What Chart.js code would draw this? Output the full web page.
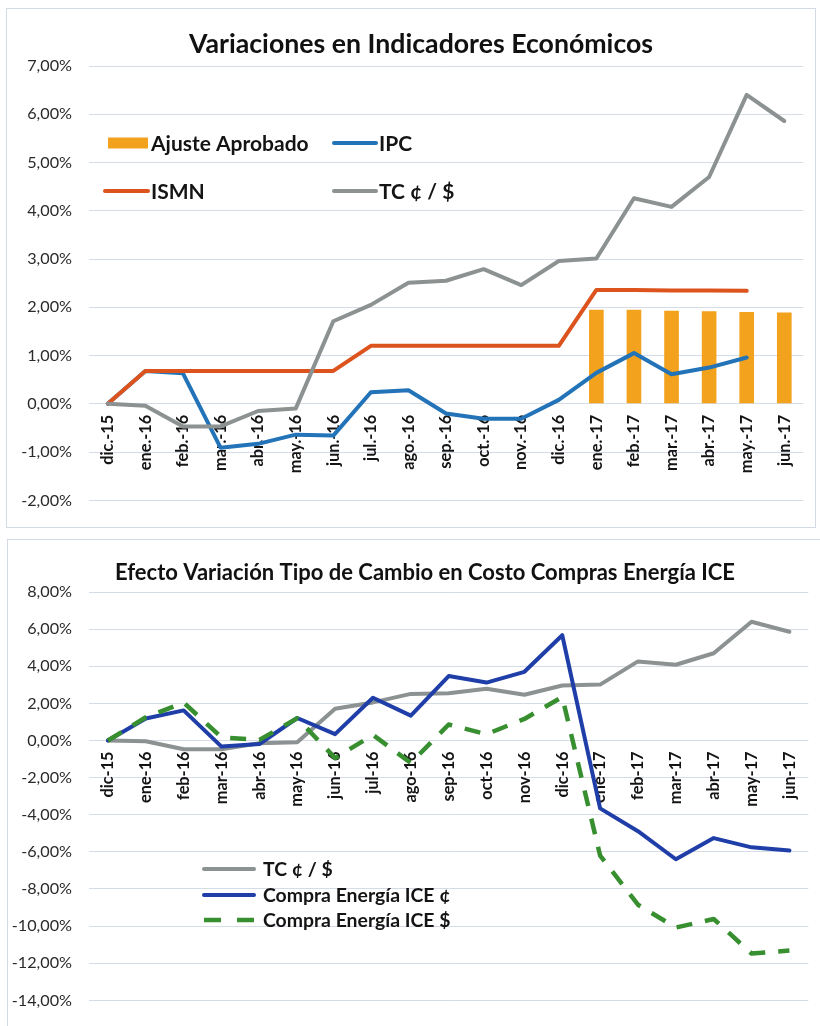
<!DOCTYPE html>
<html>
<head>
<meta charset="utf-8">
<script src="https://cdn.jsdelivr.net/npm/chart.js@4.4.1/dist/chart.umd.min.js"></script>
<style>
  html, body { margin: 0; padding: 0; background: #fff; }
  body { width: 820px; height: 1026px; position: relative; overflow: hidden; }
  .box { position: absolute; border: 1px solid #d3dae3; background: #fff; }
  #box1 { left: 6px; top: 8px; width: 808px; height: 518px; }
  #box2 { left: 7px; top: 539px; width: 820px; height: 500px; }
  canvas { display: block; }
</style>
</head>
<body>
<div class="box" id="box1"><canvas id="chart1" width="808" height="518"></canvas></div>
<div class="box" id="box2"><canvas id="chart2" width="812" height="487"></canvas></div>
<script>
// datos (variaciones en %)
const meses = ['dic.-15','ene.-16','feb.-16','mar.-16','abr.-16','may.-16','jun.-16','jul.-16','ago.-16','sep.-16','oct.-16','nov.-16','dic.-16','ene.-17','feb.-17','mar.-17','abr.-17','may.-17','jun.-17'];
const mesesB = ['dic-15','ene-16','feb-16','mar-16','abr-16','may-16','jun-16','jul-16','ago-16','sep-16','oct-16','nov-16','dic-16','ene-17','feb-17','mar-17','abr-17','may-17','jun-17'];

const ajuste = [null, null, null, null, null, null, null, null, null, null, null, null, null, 1.95, 1.95, 1.93, 1.92, 1.90, 1.89];
const ipc    = [0.00, 0.68, 0.63, -0.91, -0.83, -0.64, -0.66, 0.24, 0.28, -0.20, -0.31, -0.31, 0.08, 0.64, 1.05, 0.61, 0.75, 0.96, null];
const ismn   = [0.00, 0.68, 0.68, 0.68, 0.68, 0.68, 0.68, 1.20, 1.20, 1.20, 1.20, 1.20, 1.20, 2.36, 2.36, 2.35, 2.35, 2.34, null];
const tc     = [0.00, -0.04, -0.47, -0.47, -0.15, -0.10, 1.71, 2.05, 2.51, 2.55, 2.79, 2.46, 2.96, 3.01, 4.26, 4.08, 4.70, 6.40, 5.86];

const compraCol = [0.00, 1.18, 1.62, -0.33, -0.19, 1.21, 0.34, 2.30, 1.34, 3.47, 3.12, 3.70, 5.67, -3.66, -4.89, -6.40, -5.26, -5.76, -5.93];
const compraUsd = [0.00, 1.25, 2.04, 0.17, 0.03, 1.20, -0.95, 0.30, -1.21, 0.86, 0.34, 1.16, 2.34, -6.20, -8.85, -10.08, -9.62, -11.48, -11.32];

const FONT = "Lato, 'Liberation Sans', Arial, sans-serif";
const pct = v => v.toFixed(2).replace('.', ',') + '%';

// titulo centrado sobre el recuadro (no sobre el canvas), como en Excel
const boxTitle = {
  id: 'boxTitle',
  afterDraw(chart, args, opts) {
    const ctx = chart.ctx;
    ctx.save();
    ctx.font = opts.font;
    ctx.fillStyle = '#111';
    ctx.textAlign = 'center';
    ctx.textBaseline = 'middle';
    ctx.fillText(opts.text, opts.x, opts.y);
    ctx.restore();
  }
};

// leyenda dentro del area del grafico
const insideLegend = {
  id: 'insideLegend',
  afterDatasetsDraw(chart, args, opts) {
    const ctx = chart.ctx;
    ctx.save();
    ctx.font = opts.font;
    ctx.textBaseline = 'middle';
    ctx.textAlign = 'left';
    opts.items.forEach(it => {
      const ds = chart.data.datasets[it.ds];
      if (ds.type === 'bar') {
        ctx.fillStyle = ds.backgroundColor;
        ctx.fillRect(it.x, it.y - 5.5, it.w, 11);
      } else {
        ctx.strokeStyle = ds.borderColor;
        ctx.lineWidth = ds.borderWidth;
        ctx.lineCap = ds.borderDash ? 'butt' : 'round';
        ctx.setLineDash(it.dash || []);
        ctx.beginPath();
        ctx.moveTo(it.x, it.y);
        ctx.lineTo(it.x + it.w, it.y);
        ctx.stroke();
        ctx.setLineDash([]);
      }
      ctx.fillStyle = '#141414';
      ctx.fillText(ds.label, it.x + it.w + opts.gap, it.y + 1);
    });
    ctx.restore();
  }
};

function lineDs(label, data, color, order, extra) {
  return Object.assign({
    type: 'line', label, data, borderColor: color, backgroundColor: color,
    borderWidth: 4, pointRadius: 0, tension: 0, order,
    borderJoinStyle: 'round', borderCapStyle: 'round', spanGaps: false
  }, extra || {});
}

function xAxis(labels) {
  return {
    type: 'category', labels, offset: true,
    position: { y: 0 },
    grid: { display: false, drawTicks: false },
    border: { display: false },
    ticks: { autoSkip: false, minRotation: 90, maxRotation: 90, padding: 11, color: '#141414',
             font: { family: FONT, size: 16.3, weight: 'bold' } }
  };
}

function yAxis(min, max, step, width) {
  return {
    min, max,
    grid: { color: '#d5dce6', lineWidth: 1, drawTicks: false },
    border: { display: false },
    ticks: { stepSize: step, padding: 17, color: '#2a2a2a', callback: pct,
             font: { family: FONT, size: 16.2 } },
    afterFit(scale) { scale.width = width; }
  };
}

// --- grafico 1 ---
new Chart(document.getElementById('chart1'), {
  type: 'line',
  data: {
    labels: meses,
    datasets: [
      { type: 'bar', label: 'Ajuste Aprobado', data: ajuste, backgroundColor: '#f2a21d',
        barPercentage: 0.39, categoryPercentage: 1.0, order: 4 },
      lineDs('IPC', ipc, '#2273b8', 3),
      lineDs('ISMN', ismn, '#dc531e', 2),
      lineDs('TC ¢ / $', tc, '#8c9191', 1)
    ]
  },
  options: {
    responsive: false, animation: false,
    layout: { padding: { left: 0, right: 6, top: 57, bottom: 19 } },
    scales: { x: xAxis(meses), y: yAxis(-2, 7, 1, 82) },
    plugins: {
      legend: { display: false },
      tooltip: { enabled: false },
      title: { display: false },
      boxTitle: { text: 'Variaciones en Indicadores Económicos', font: 'bold 26.7px ' + FONT, x: 414, y: 35 },
      insideLegend: {
        font: 'bold 21px ' + FONT, gap: 3,
        items: [
          { ds: 0, x: 101, y: 134, w: 40 },
          { ds: 1, x: 327, y: 134, w: 42 },
          { ds: 2, x: 98,  y: 182, w: 43 },
          { ds: 3, x: 327, y: 182, w: 42 }
        ]
      }
    }
  },
  plugins: [insideLegend, boxTitle]
});

// --- grafico 2 ---
new Chart(document.getElementById('chart2'), {
  type: 'line',
  data: {
    labels: mesesB,
    datasets: [
      lineDs('TC ¢ / $', tc, '#8c9191', 3),
      lineDs('Compra Energía ICE ¢', compraCol, '#1f3ea8', 2),
      lineDs('Compra Energía ICE $', compraUsd, '#378f30', 1,
             { borderDash: [16, 13], borderCapStyle: 'butt', borderWidth: 4.5 })
    ]
  },
  options: {
    responsive: false, animation: false,
    layout: { padding: { left: 0, right: 1, top: 52, bottom: 17 } },
    scales: { x: xAxis(mesesB), y: yAxis(-14, 8, 2, 81) },
    plugins: {
      legend: { display: false },
      tooltip: { enabled: false },
      title: { display: false },
      boxTitle: { text: 'Efecto Variación Tipo de Cambio en Costo Compras Energía ICE', font: 'bold 22px ' + FONT, x: 417, y: 33 },
      insideLegend: {
        font: 'bold 19.4px ' + FONT, gap: 9,
        items: [
          { ds: 0, x: 196, y: 329, w: 50 },
          { ds: 1, x: 196, y: 355, w: 50 },
          { ds: 2, x: 196, y: 380, w: 50, dash: [17, 16] }
        ]
      }
    }
  },
  plugins: [insideLegend, boxTitle]
});
</script>
</body>
</html>
